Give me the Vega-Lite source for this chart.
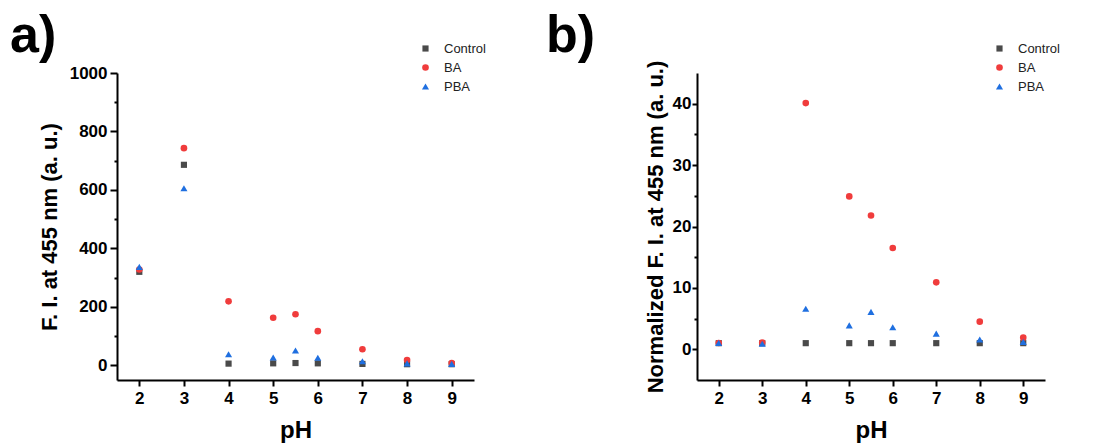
{
  "$schema": "https://vega.github.io/schema/vega-lite/v6.json",
  "padding": {"left": 10, "top": 10, "right": 5, "bottom": 5},
  "background": "white",
  "config": {
    "font": "Liberation Sans",
    "view": {"stroke": null},
    "axis": {
      "grid": false,
      "domainColor": "black",
      "domainWidth": 2,
      "tickColor": "black",
      "tickWidth": 2,
      "labelFont": "Liberation Sans",
      "labelFontWeight": "bold",
      "labelFontSize": 17,
      "labelColor": "black",
      "titleFont": "Liberation Sans",
      "titleFontSize": 22,
      "titleFontWeight": "bold",
      "titleColor": "black"
    },
    "legend": {
      "labelFont": "Liberation Sans",
      "labelFontSize": 13,
      "labelColor": "#222222"
    }
  },
  "datasets": {
    "raw": [
      {"pH": 2, "Sample": "Control", "FI": 320},
      {"pH": 3, "Sample": "Control", "FI": 686},
      {"pH": 4, "Sample": "Control", "FI": 6},
      {"pH": 5, "Sample": "Control", "FI": 7},
      {"pH": 5.5, "Sample": "Control", "FI": 8},
      {"pH": 6, "Sample": "Control", "FI": 7},
      {"pH": 7, "Sample": "Control", "FI": 5},
      {"pH": 8, "Sample": "Control", "FI": 4},
      {"pH": 9, "Sample": "Control", "FI": 4},
      {"pH": 2, "Sample": "BA", "FI": 328},
      {"pH": 3, "Sample": "BA", "FI": 743},
      {"pH": 4, "Sample": "BA", "FI": 219},
      {"pH": 5, "Sample": "BA", "FI": 163},
      {"pH": 5.5, "Sample": "BA", "FI": 175},
      {"pH": 6, "Sample": "BA", "FI": 117},
      {"pH": 7, "Sample": "BA", "FI": 55},
      {"pH": 8, "Sample": "BA", "FI": 18},
      {"pH": 9, "Sample": "BA", "FI": 8},
      {"pH": 2, "Sample": "PBA", "FI": 337},
      {"pH": 3, "Sample": "PBA", "FI": 606},
      {"pH": 4, "Sample": "PBA", "FI": 38},
      {"pH": 5, "Sample": "PBA", "FI": 27},
      {"pH": 5.5, "Sample": "PBA", "FI": 51},
      {"pH": 6, "Sample": "PBA", "FI": 26},
      {"pH": 7, "Sample": "PBA", "FI": 14},
      {"pH": 8, "Sample": "PBA", "FI": 7},
      {"pH": 9, "Sample": "PBA", "FI": 5}
    ],
    "norm": [
      {"pH": 2, "Sample": "Control", "NFI": 1},
      {"pH": 3, "Sample": "Control", "NFI": 1},
      {"pH": 4, "Sample": "Control", "NFI": 1},
      {"pH": 5, "Sample": "Control", "NFI": 1},
      {"pH": 5.5, "Sample": "Control", "NFI": 1},
      {"pH": 6, "Sample": "Control", "NFI": 1},
      {"pH": 7, "Sample": "Control", "NFI": 1},
      {"pH": 8, "Sample": "Control", "NFI": 1},
      {"pH": 9, "Sample": "Control", "NFI": 1},
      {"pH": 2, "Sample": "BA", "NFI": 1.02},
      {"pH": 3, "Sample": "BA", "NFI": 1.08},
      {"pH": 4, "Sample": "BA", "NFI": 40.1},
      {"pH": 5, "Sample": "BA", "NFI": 24.9},
      {"pH": 5.5, "Sample": "BA", "NFI": 21.8},
      {"pH": 6, "Sample": "BA", "NFI": 16.5},
      {"pH": 7, "Sample": "BA", "NFI": 10.9},
      {"pH": 8, "Sample": "BA", "NFI": 4.5},
      {"pH": 9, "Sample": "BA", "NFI": 1.9},
      {"pH": 2, "Sample": "PBA", "NFI": 1.05},
      {"pH": 3, "Sample": "PBA", "NFI": 0.9},
      {"pH": 4, "Sample": "PBA", "NFI": 6.6},
      {"pH": 5, "Sample": "PBA", "NFI": 3.9},
      {"pH": 5.5, "Sample": "PBA", "NFI": 6.1},
      {"pH": 6, "Sample": "PBA", "NFI": 3.6},
      {"pH": 7, "Sample": "PBA", "NFI": 2.55},
      {"pH": 8, "Sample": "PBA", "NFI": 1.6},
      {"pH": 9, "Sample": "PBA", "NFI": 1.2}
    ]
  },
  "resolve": {
    "scale": {"y": "independent", "color": "independent", "shape": "independent", "size": "independent"},
    "legend": {"color": "independent", "shape": "independent", "size": "independent"}
  },
  "spacing": 60,
  "hconcat": [
    {
      "width": 357,
      "height": 307,
      "title": {"text": "a)", "anchor": "start", "frame": "group", "dx": -107, "fontSize": 52, "fontWeight": "bold", "font": "Liberation Sans", "color": "black", "offset": -21},
      "data": {"name": "raw"},
      "resolve": {"axis": {"y": "independent", "x": "independent"}},
      "layer": [
        {
          "mark": {"type": "point", "opacity": 0},
          "encoding": {
            "x": {"field": "pH", "type": "quantitative", "scale": {"domain": [1.5, 9.5], "nice": false, "zero": false},
              "axis": {"orient": "bottom", "values": [2, 3, 4, 5, 6, 7, 8, 9], "labels": false, "domain": false, "ticks": true, "tickSize": 6, "title": null, "zindex": 1}},
            "y": {
              "field": "FI", "type": "quantitative",
              "scale": {"domain": [-50, 1000], "nice": false, "zero": false},
              "axis": {"orient": "left", "values": [0, 200, 400, 600, 800, 1000], "labels": false, "domain": false, "ticks": true, "tickSize": 7, "title": null, "zindex": 1}
            }
          }
        },
        {
          "mark": {"type": "point", "opacity": 0},
          "encoding": {
            "x": {"field": "pH", "type": "quantitative", "scale": {"domain": [1.5, 9.5], "nice": false, "zero": false}, "axis": null},
            "y": {
              "field": "FI", "type": "quantitative",
              "scale": {"domain": [-50, 1000], "nice": false, "zero": false},
              "axis": {"orient": "left", "values": [100, 300, 500, 700, 900], "labels": false, "domain": false, "ticks": true, "tickSize": 3, "title": null, "zindex": 1}
            }
          }
        },
        {
          "mark": {"type": "point", "filled": true, "opacity": 1},
          "encoding": {
            "x": {
              "field": "pH", "type": "quantitative",
              "scale": {"domain": [1.5, 9.5], "nice": false, "zero": false},
              "axis": {"orient": "bottom", "values": [2, 3, 4, 5, 6, 7, 8, 9], "title": "pH", "titleFontSize": 24, "ticks": false, "labelPadding": 10, "titlePadding": 12}
            },
            "y": {
              "field": "FI", "type": "quantitative",
              "scale": {"domain": [-50, 1000], "nice": false, "zero": false},
              "axis": {"orient": "left", "values": [0, 200, 400, 600, 800, 1000], "format": "d", "ticks": false, "labelPadding": 10, "title": "F. I. at 455 nm (a. u.)", "titlePadding": 8}
            },
            "color": {
              "field": "Sample", "type": "nominal",
              "scale": {"domain": ["Control", "BA", "PBA"], "range": ["#4a4a4a", "#f03c3c", "#1f6fe0"]},
              "legend": {"title": null, "orient": "none", "legendX": 302, "legendY": -31, "rowPadding": 5, "labelOffset": 12}
            },
            "shape": {
              "field": "Sample", "type": "nominal",
              "scale": {"domain": ["Control", "BA", "PBA"], "range": ["square", "circle", "triangle-up"]}
            },
            "size": {
              "field": "Sample", "type": "nominal",
              "scale": {"domain": ["Control", "BA", "PBA"], "range": [38, 50, 62]}
            }
          }
        }
      ]
    },
    {
      "width": 348,
      "height": 307,
      "title": {"text": "b)", "anchor": "start", "frame": "group", "dx": -151, "fontSize": 52, "fontWeight": "bold", "font": "Liberation Sans", "color": "black", "offset": -21},
      "data": {"name": "norm"},
      "resolve": {"axis": {"y": "independent", "x": "independent"}},
      "layer": [
        {
          "mark": {"type": "point", "opacity": 0},
          "encoding": {
            "x": {"field": "pH", "type": "quantitative", "scale": {"domain": [1.5, 9.5], "nice": false, "zero": false},
              "axis": {"orient": "bottom", "values": [2, 3, 4, 5, 6, 7, 8, 9], "labels": false, "domain": false, "ticks": true, "tickSize": 6, "title": null, "zindex": 1}},
            "y": {
              "field": "NFI", "type": "quantitative",
              "scale": {"domain": [-5, 45], "nice": false, "zero": false},
              "axis": {"orient": "left", "values": [0, 10, 20, 30, 40], "labels": false, "domain": false, "ticks": true, "tickSize": 5, "title": null, "zindex": 1}
            }
          }
        },
        {
          "mark": {"type": "point", "opacity": 0},
          "encoding": {
            "x": {"field": "pH", "type": "quantitative", "scale": {"domain": [1.5, 9.5], "nice": false, "zero": false}, "axis": null},
            "y": {
              "field": "NFI", "type": "quantitative",
              "scale": {"domain": [-5, 45], "nice": false, "zero": false},
              "axis": {"orient": "left", "values": [5, 15, 25, 35], "labels": false, "domain": false, "ticks": true, "tickSize": 3, "title": null, "zindex": 1}
            }
          }
        },
        {
          "mark": {"type": "point", "filled": true, "opacity": 1},
          "encoding": {
            "x": {
              "field": "pH", "type": "quantitative",
              "scale": {"domain": [1.5, 9.5], "nice": false, "zero": false},
              "axis": {"orient": "bottom", "values": [2, 3, 4, 5, 6, 7, 8, 9], "title": "pH", "titleFontSize": 24, "ticks": false, "labelPadding": 10, "titlePadding": 12}
            },
            "y": {
              "field": "NFI", "type": "quantitative",
              "scale": {"domain": [-5, 45], "nice": false, "zero": false},
              "axis": {"orient": "left", "values": [0, 10, 20, 30, 40], "ticks": false, "labelPadding": 6, "title": "Normalized F. I. at 455 nm (a. u.)", "titlePadding": 5}
            },
            "color": {
              "field": "Sample", "type": "nominal",
              "scale": {"domain": ["Control", "BA", "PBA"], "range": ["#4a4a4a", "#f03c3c", "#1f6fe0"]},
              "legend": {"title": null, "orient": "none", "legendX": 296, "legendY": -31, "rowPadding": 5, "labelOffset": 12}
            },
            "shape": {
              "field": "Sample", "type": "nominal",
              "scale": {"domain": ["Control", "BA", "PBA"], "range": ["square", "circle", "triangle-up"]}
            },
            "size": {
              "field": "Sample", "type": "nominal",
              "scale": {"domain": ["Control", "BA", "PBA"], "range": [38, 50, 62]}
            }
          }
        }
      ]
    }
  ]
}
